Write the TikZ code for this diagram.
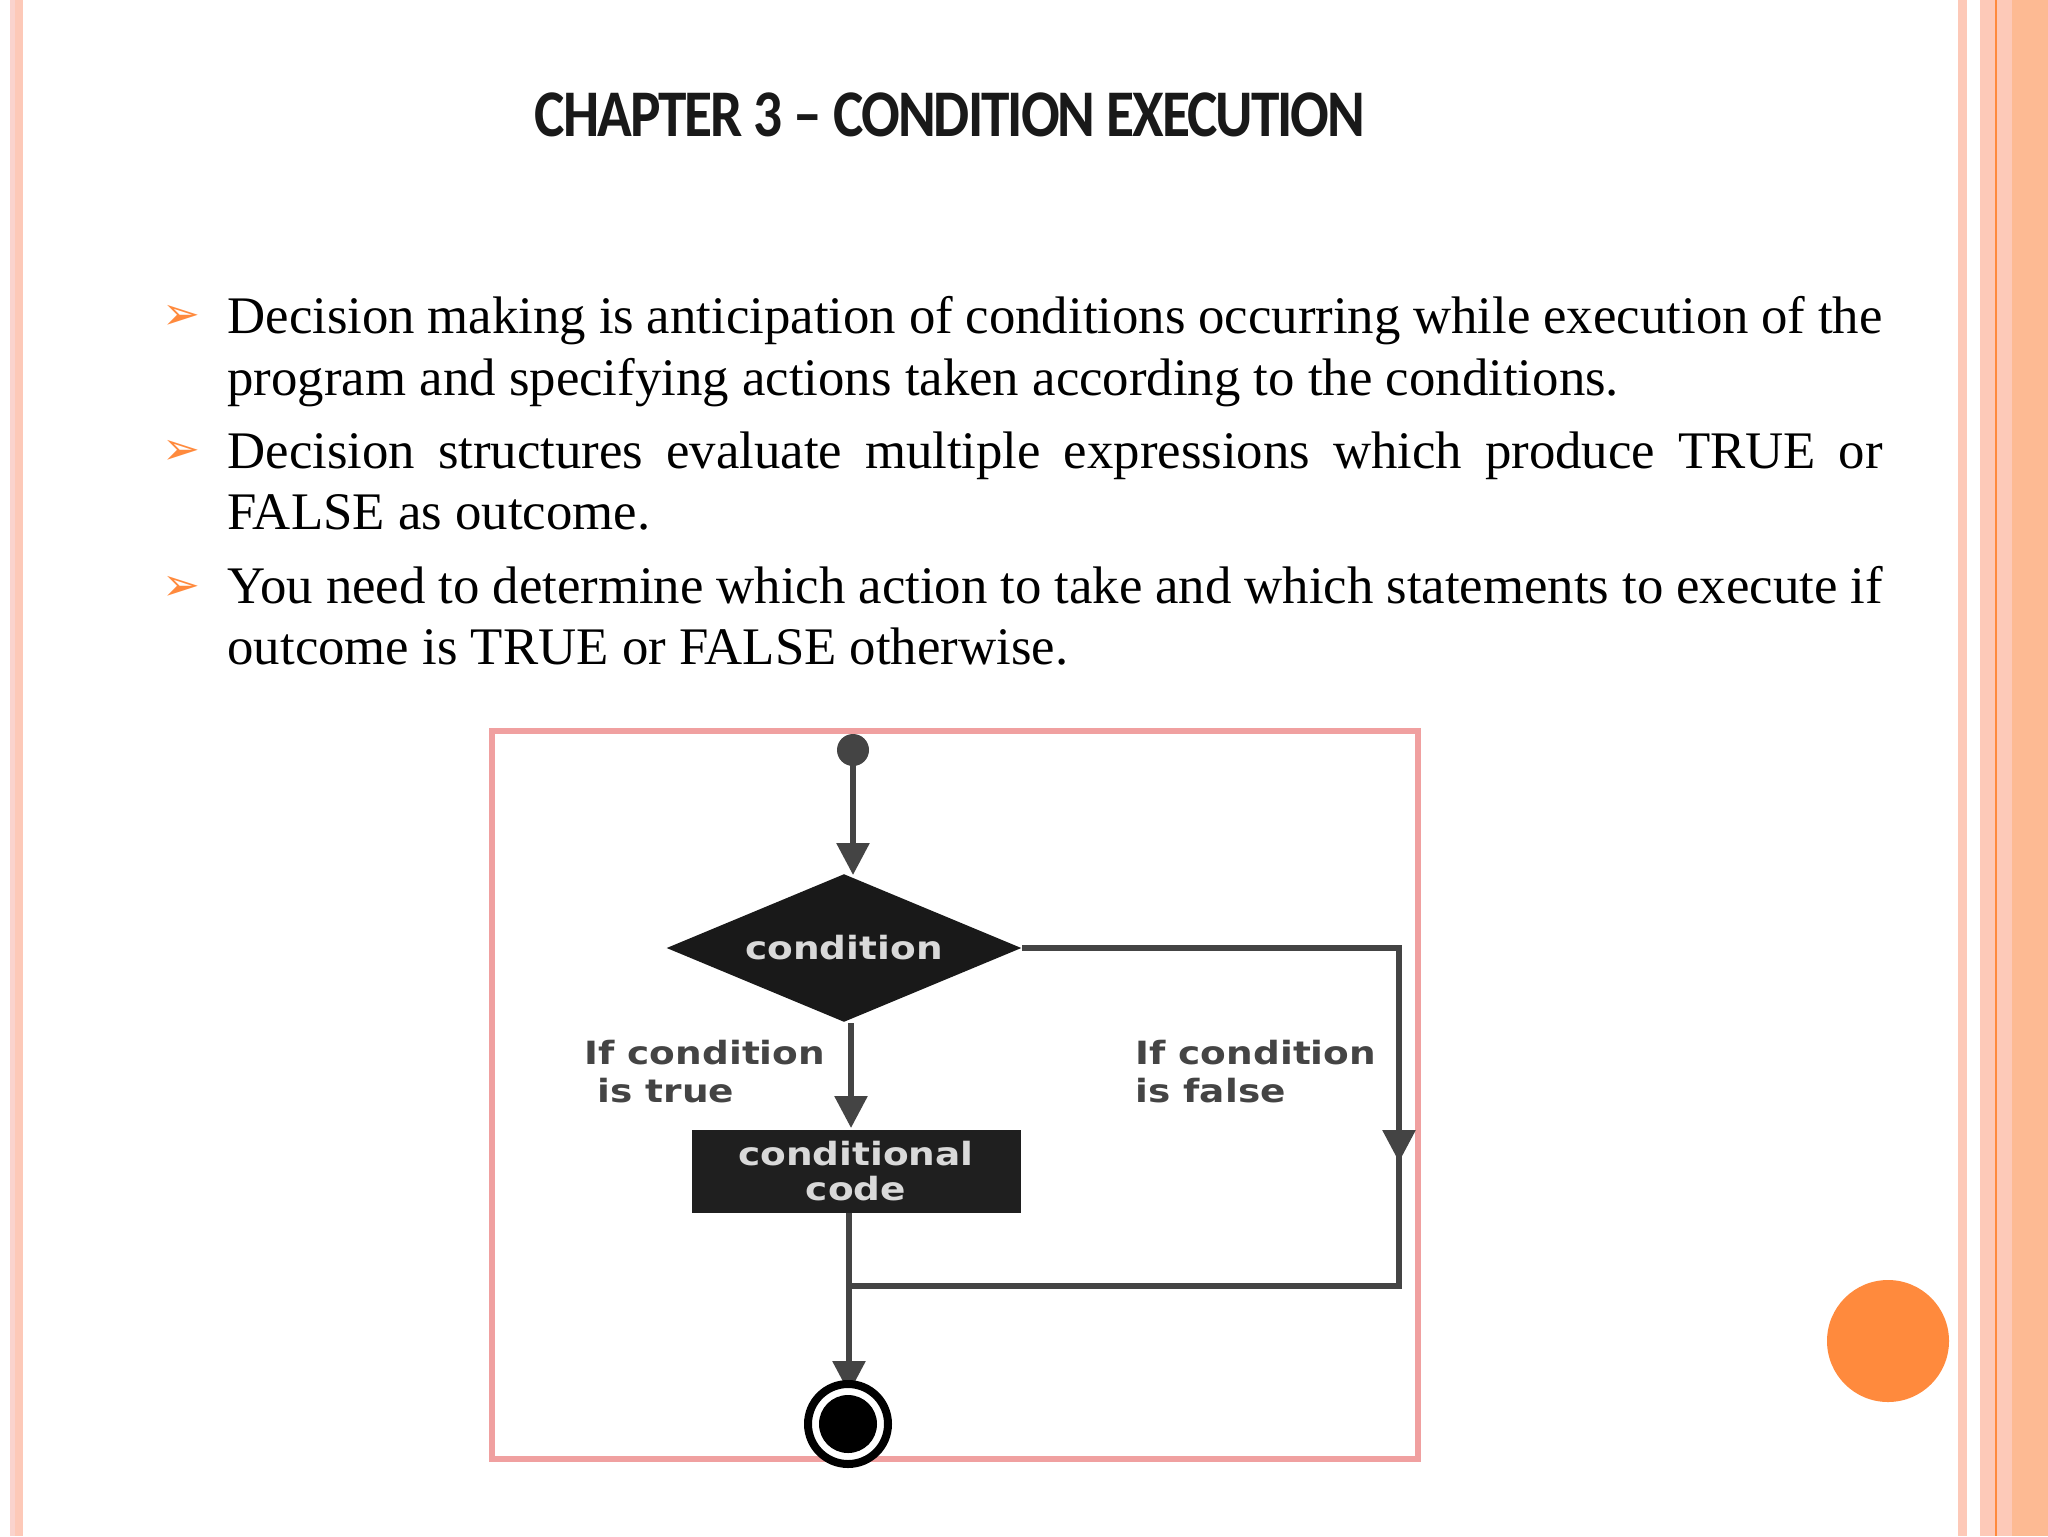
\documentclass[tikz,border=0pt]{standalone}
\usepackage{fontspec}
\setmainfont{Liberation Serif}
\newfontfamily\titlefont[FakeStretch=0.86,LetterSpace=-3]{Carlito}
\newfontfamily\lblfont[FakeStretch=1.17]{DejaVu Sans}
\newfontfamily\symfont{DejaVu Sans}
\usetikzlibrary{arrows.meta,shapes.geometric}
\definecolor{pk}{HTML}{FDC9B8}
\definecolor{pkl}{HTML}{F8C0B8}
\definecolor{org}{HTML}{FF8A3D}
\definecolor{fr}{HTML}{F0A0A0}
\definecolor{ln}{HTML}{444444}
\tikzset{conn/.style={draw=ln,line width=2.2pt},
 arr/.style={conn,-{Triangle[length=12pt,width=12pt]}},
 lbl/.style={font=\lblfont\bfseries\fontsize{12}{14}\selectfont,text=ln,align=left,anchor=north west,inner sep=0pt}}
\begin{document}
\begin{tikzpicture}[x=0.375pt,y=-0.375pt]
\useasboundingbox (0,0) rectangle (2048,1536);
\fill[white] (0,0) rectangle (2048,1536);
\fill[pkl!70] (10,0) rectangle (15,1536);
\fill[pk] (15,0) rectangle (23,1536);
\fill[pk] (1958,0) rectangle (1967,1536);
\fill[pk] (1980,0) rectangle (2048,1536);
\fill[pk!80!orange] (2012,0) rectangle (2048,1536);
\draw[org,line width=0.8pt] (1996,0) -- (1996,1536);
\node[font=\titlefont\bfseries\fontsize{25}{30}\selectfont,text=black!90] (title) at (950,115) {CHAPTER 3 – CONDITION EXECUTION};
\node[anchor=north west,inner sep=0pt,text width=1655*0.375pt,align=justify,font=\fontsize{19.8}{23}\selectfont] (txt) at (227,296) {\hyphenpenalty=10000\exhyphenpenalty=10000%
Decision making is anticipation of conditions occurring while execution of the program and specifying actions taken according to the conditions.\par\vspace{4.5pt}
Decision structures evaluate multiple expressions which produce TRUE or FALSE as outcome.\par\vspace{4.5pt}
You need to determine which action to take and which statements to execute if outcome is TRUE or FALSE otherwise.};
\foreach \yy/\n in {317/b1,452/b2,588/b3}
  \node[text=org,font=\symfont\fontsize{17}{17}\selectfont] (\n) at (181,\yy) {➢};
% diagram
\draw[fr,line width=2pt,fill=white] (492,731) rectangle (1418,1459);
\fill[ln] (853,750) circle (16);
\coordinate (start) at (853,750);
\node[diamond,fill=black!90,minimum width=355*0.375pt,minimum height=148*0.375pt,inner sep=0pt,aspect=2.4,text=white!85!black,font=\lblfont\bfseries\fontsize{12}{14}\selectfont] (cond) at (844,948) {condition};
\node[fill=black!88,minimum width=329*0.375pt,minimum height=83*0.375pt,inner sep=0pt,align=center,text=white!85!black,font=\lblfont\bfseries\fontsize{12}{13}\selectfont] (code) at (856,1171) {conditional\\code};
\draw[arr] (start) -- (853,875);
\draw[arr] (851,1023) -- (851,1128);
\coordinate (rc) at (1399,948);
\coordinate (rb) at (1399,1286);
\coordinate (lb) at (849,1286);
\draw[conn] (cond.east) -- (rc) -- (rb) -- (lb);
\draw[arr] (rc) -- (1399,1162);
\draw[arr] (849,1213) -- (849,1393);
\draw[black,line width=3pt,fill=white] (848,1424) circle (40);
\fill[black] (848,1424) circle (29);
\node[lbl] (lt) at (584,1040) {If condition\\\ is true};
\node[lbl] (lf) at (1135,1040) {If condition\\is false};
\fill[org] (1888,1341) circle (61);
\end{tikzpicture}
\end{document}
